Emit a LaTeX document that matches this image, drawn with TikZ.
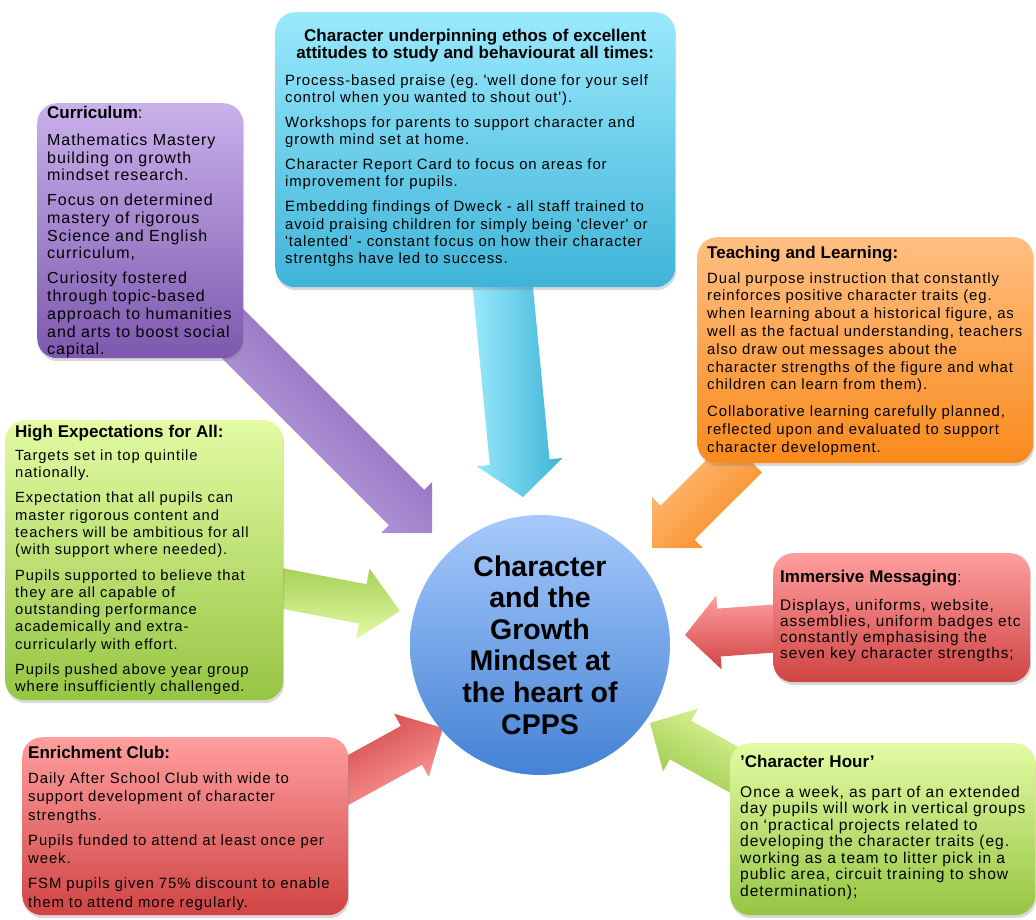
\documentclass[tikz,border=0pt]{standalone}
\usepackage{fontspec}
\setmainfont{Liberation Sans}
\newfontfamily\bodyfont{Liberation Sans}[LetterSpace=6]
\usetikzlibrary{calc,shadows,backgrounds}
\frenchspacing

\definecolor{cyanA}{HTML}{9AE9FC}
\definecolor{cyanB}{HTML}{3FB4D8}
\definecolor{lilacA}{HTML}{C9B1EC}
\definecolor{lilacB}{HTML}{7D58AE}
\definecolor{orangeA}{HTML}{FFBF82}
\definecolor{orangeB}{HTML}{F98A1C}
\definecolor{limeA}{HTML}{E3FBA4}
\definecolor{limeB}{HTML}{96C543}
\definecolor{roseA}{HTML}{FF9E9E}
\definecolor{roseB}{HTML}{D04444}
\definecolor{skyA}{HTML}{A6C9FB}
\definecolor{skyB}{HTML}{4482D5}

\newcommand{\hd}[1]{{\rmfamily\bfseries\fontsize{17}{18}\selectfont #1}}
\newcommand{\bsz}[2]{\bodyfont\fontsize{#1}{#2}\selectfont}
\newcommand{\blockarrow}[6]{%
  \coordinate (hb) at ($(#2)!#5!(#1)$);
  \path[#6] ($(#1)!#3!90:(#2)$) -- ($(hb)!#3!90:(#2)$) -- ($(hb)!#4!90:(#2)$)
    -- (#2) -- ($(hb)!#4!-90:(#2)$) -- ($(hb)!#3!-90:(#2)$) -- ($(#1)!#3!-90:(#2)$) -- cycle;}

\begin{document}
\begin{tikzpicture}[x=1pt,y=-1pt,
    box node/.style 2 args={rectangle,rounded corners=20pt,inner sep=0pt,anchor=north west,
      top color=#1,bottom color=#2,drop shadow={shadow xshift=1pt,shadow yshift=-3pt,opacity=0.3}},
    text node/.style={anchor=base west,inner sep=0pt,align=left,text width=#1},
    hub node/.style={circle,inner sep=0pt,minimum size=260pt,align=center,
      top color=skyA,bottom color=skyB,font=\bfseries\fontsize{28.5}{31.6}\selectfont},
    arrow body/.style n args={3}{bottom color=#1,top color=#2,shading angle=#3}]

  \useasboundingbox (0,0) rectangle (1036,919);

  \node[box node={cyanA}{cyanB},minimum width=400pt,minimum height=275pt] (ethos) at (275,12) {};
  \node[box node={lilacA}{lilacB},minimum width=206pt,minimum height=255pt] (curric) at (37,103) {};
  \node[box node={orangeA}{orangeB},minimum width=336pt,minimum height=226pt] (teach) at (697,237) {};
  \node[box node={limeA}{limeB},minimum width=278pt,minimum height=280pt] (expect) at (5,420) {};
  \node[box node={roseA}{roseB},minimum width=257pt,minimum height=129pt] (immerse) at (773,553) {};
  \node[box node={limeA}{limeB},minimum width=305pt,minimum height=172pt] (hour) at (730,743) {};
  \node[box node={roseA}{roseB},minimum width=326pt,minimum height=178pt] (enrich) at (22,737) {};

  \node[hub node] (hub) at (540,645) {Character\\and the\\Growth\\Mindset at\\the heart of\\CPPS};

  \node[text node=380pt,font={\bsz{14.9}{17.3}}] (ethosTxt) at (285,41)
    {\makebox[\linewidth]{\hd{Character underpinning ethos of excellent}}\\
     \makebox[\linewidth]{\hd{attitudes to study and behaviourat all times:}}\\[9.4pt]
     Process-based praise (eg. 'well done for your self\\
     control when you wanted to shout out').\\[7.7pt]
     Workshops for parents to support character and\\
     growth mind set at home.\\[7.7pt]
     Character Report Card to focus on areas for\\
     improvement for pupils.\\[7.7pt]
     Embedding findings of Dweck - all staff trained to\\
     avoid praising children for simply being 'clever' or\\
     'talented' - constant focus on how their character\\
     strentghs have led to success.};
  \node[text node=230pt,font={\bsz{16}{17.7}}] (curricTxt) at (47,118)
    {\hd{Curriculum}:\\[9.7pt]
     Mathematics Mastery\\
     building on growth\\
     mindset research.\\[7.3pt]
     Focus on determined\\
     mastery of rigorous\\
     Science and English\\
     curriculum,\\[7.3pt]
     Curiosity fostered\\
     through topic-based\\
     approach to humanities\\
     and arts to boost social\\
     capital.};
  \node[text node=340pt,font={\bsz{14.9}{17.8}}] (teachTxt) at (707,258)
    {\hd{Teaching and Learning:}\\[7.2pt]
     Dual purpose instruction that constantly\\
     reinforces positive character traits (eg.\\
     when learning about a historical figure, as\\
     well as the factual understanding, teachers\\
     also draw out messages about the\\
     character strengths of the figure and what\\
     children can learn from them).\\[9pt]
     Collaborative learning carefully planned,\\
     reflected upon and evaluated to support\\
     character development.};
  \node[text node=300pt,font={\bsz{14.75}{17.2}}] (expectTxt) at (15,437)
    {\hd{High Expectations for All:}\\[5.8pt]
     Targets set in top quintile\\
     nationally.\\[8.5pt]
     Expectation that all pupils can\\
     master rigorous content and\\
     teachers will be ambitious for all\\
     (with support where needed).\\[8.5pt]
     Pupils supported to believe that\\
     they are all capable of\\
     outstanding performance\\
     academically and extra-\\
     curricularly with effort.\\[8.5pt]
     Pupils pushed above year group\\
     where insufficiently challenged.};
  \node[text node=280pt,font={\bsz{15.4}{16}}] (immerseTxt) at (780,582)
    {\hd{Immersive Messaging}:\\[12pt]
     Displays, uniforms, website,\\
     assemblies, uniform badges etc\\
     constantly emphasising the\\
     seven key character strengths;};
  \node[text node=320pt,font={\bsz{15.6}{16.5}}] (hourTxt) at (740,767)
    {\hd{'Character Hour'}\\[13.5pt]
     Once a week, as part of an extended\\
     day pupils will work in vertical groups\\
     on ‘practical projects related to\\
     developing the character traits (eg.\\
     working as a team to litter pick in a\\
     public area, circuit training to show\\
     determination);};
  \node[text node=340pt,font={\bsz{14.9}{18.5}}] (enrichTxt) at (28,758)
    {\hd{Enrichment Club:}\\[6.5pt]
     Daily After School Club with wide to\\
     support development of character\\
     strengths.\\[6.5pt]
     Pupils funded to attend at least once per\\
     week.\\[6.5pt]
     FSM pupils given 75\% discount to enable\\
     them to attend more regularly.};

  \coordinate (curS) at ([shift={(-43,-57)}]curric.south east);
  \coordinate (curT) at (432,533);
  \coordinate (ethS) at ([shift={(26,-17)}]ethos.south);
  \coordinate (ethT) at (523,497);
  \coordinate (teaS) at ([shift={(48,-8)}]teach.south west);
  \coordinate (teaT) at (652,548);
  \coordinate (expS) at ([shift={(-13,26)}]expect.east);
  \coordinate (expT) at (400,611);
  \coordinate (immS) at ([shift={(12,10)}]immerse.west);
  \coordinate (immT) at (685,635);
  \coordinate (enrS) at ([shift={(-13,50)}]enrich.north east);
  \coordinate (enrT) at (443,728);
  \coordinate (houS) at ([shift={(35,44)}]hour.north west);
  \coordinate (houT) at (650,723);

  \begin{scope}[on background layer]
    \blockarrow{curS}{curT}{25pt}{36pt}{36pt}{arrow body={lilacA}{lilacB}{-45}}
    \blockarrow{ethS}{ethT}{30pt}{43pt}{35pt}{arrow body={cyanA}{cyanB}{-90}}
    \blockarrow{teaS}{teaT}{24pt}{36pt}{36pt}{arrow body={orangeB}{orangeA}{45}}
    \blockarrow{expS}{expT}{20pt}{36pt}{38pt}{arrow body={limeA}{limeB!80!limeA}{0}}
    \blockarrow{immS}{immT}{24pt}{37pt}{34pt}{arrow body={roseB}{roseA}{0}}
    \blockarrow{enrS}{enrT}{22pt}{36pt}{36pt}{arrow body={roseA}{roseB}{28}}
    \blockarrow{houS}{houT}{22pt}{36pt}{35pt}{arrow body={limeB}{limeA}{-29}}
  \end{scope}

\end{tikzpicture}
\end{document}
